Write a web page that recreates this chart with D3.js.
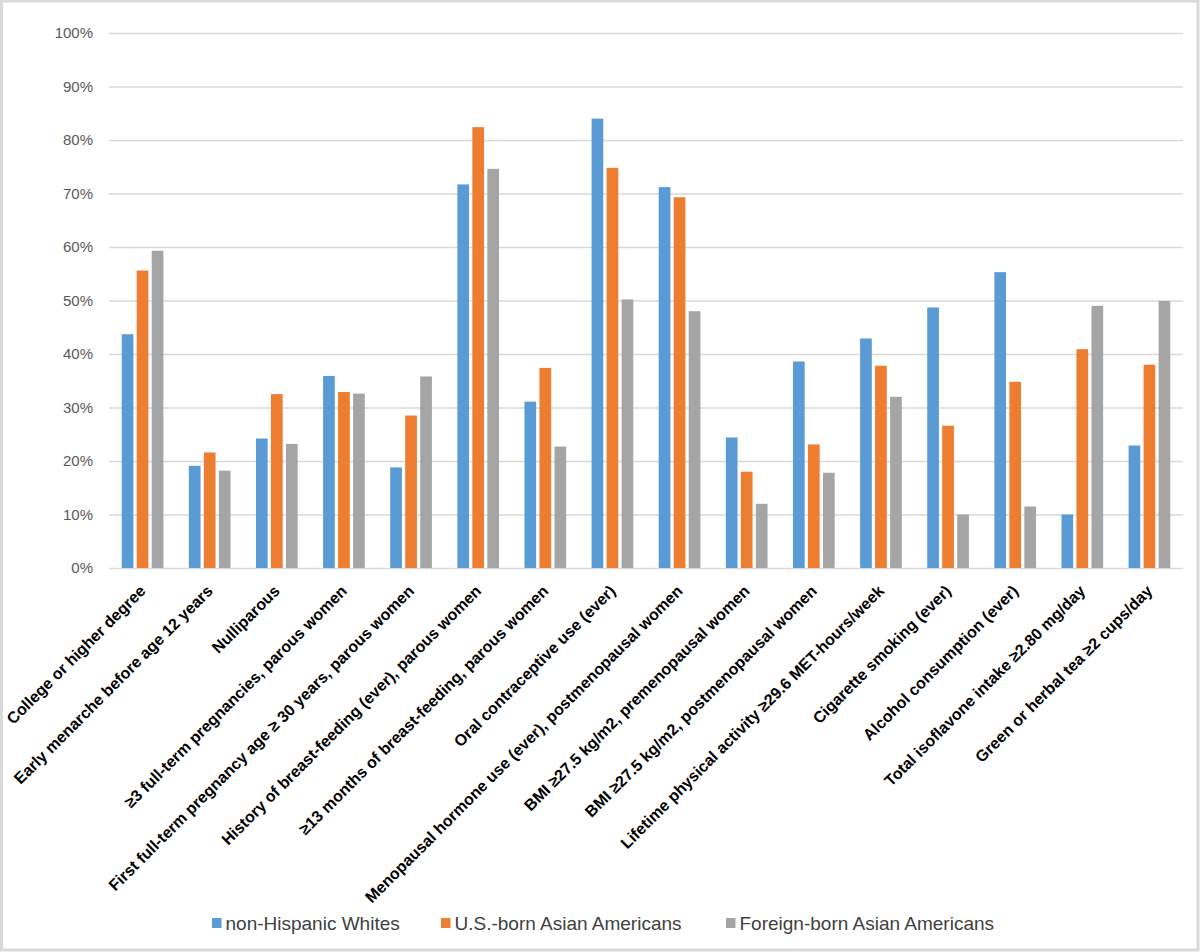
<!DOCTYPE html>
<html>
<head>
<meta charset="utf-8">
<script src="https://cdn.jsdelivr.net/npm/d3@7"></script>
<style>
  html, body { margin: 0; padding: 0; background: #fff; }
  svg { display: block; }
</style>
</head>
<body>
<svg id="chart" width="1200" height="952"></svg>
<script>
const categories = [
  "College or higher degree",
  "Early menarche before age 12 years",
  "Nulliparous",
  "≥3 full-term pregnancies, parous women",
  "First full-term pregnancy age ≥ 30 years, parous women",
  "History of breast-feeding (ever), parous women",
  "≥13 months of breast-feeding, parous women",
  "Oral contraceptive use (ever)",
  "Menopausal hormone use (ever), postmenopausal women",
  "BMI ≥27.5 kg/m2, premenopausal women",
  "BMI ≥27.5 kg/m2, postmenopausal women",
  "Lifetime physical activity ≥29.6 MET-hours/week",
  "Cigarette smoking (ever)",
  "Alcohol consumption (ever)",
  "Total isoflavone intake ≥2.80 mg/day",
  "Green or herbal tea ≥2 cups/day"
];
const seriesNames = ["non-Hispanic Whites", "U.S.-born Asian Americans", "Foreign-born Asian Americans"];
const whites     = [43.7, 19.1, 24.2, 35.9, 18.8, 71.7, 31.1, 84.0, 71.2, 24.4, 38.6, 42.9, 48.7, 55.3, 10.0, 22.9];
const usBorn     = [55.6, 21.6, 32.5, 32.9, 28.5, 82.4, 37.4, 74.8, 69.3, 18.0, 23.1, 37.8, 26.6, 34.8, 40.9, 38.0];
const foreignBorn= [59.3, 18.2, 23.2, 32.6, 35.8, 74.6, 22.7, 50.2, 48.0, 12.0, 17.8, 32.0, 10.0, 11.5, 49.0, 49.9];
const yTicks = [0, 10, 20, 30, 40, 50, 60, 70, 80, 90, 100];
const colors = ["#5B9BD5", "#ED7D31", "#A5A5A5"];

const seriesValues = [whites, usBorn, foreignBorn];

const svg = d3.select("#chart");
const W = 1200, H = 952;
const plot = { left: 109, right: 1183, top: 33, bottom: 568 };

// frame
svg.append("rect")
  .attr("x", 1.5).attr("y", 1).attr("width", W - 3.5).attr("height", H - 3)
  .attr("fill", "#fff").attr("stroke", "#D9D9D9").attr("stroke-width", 3);

const y = d3.scaleLinear().domain([0, 100]).range([plot.bottom, plot.top]);
const x0 = d3.scaleBand().domain(categories).range([plot.left, plot.right])
  .paddingInner(0.379).paddingOuter(0.1895);
const x1 = d3.scaleBand().domain(seriesNames).range([0, x0.bandwidth()])
  .paddingInner(0.22).paddingOuter(0);

// gridlines
const yAxis = d3.axisLeft(y).tickValues(yTicks).tickFormat(d => d + "%")
  .tickSize(-(plot.right - plot.left)).tickPadding(16);
const gy = svg.append("g").attr("transform", `translate(${plot.left},0)`).call(yAxis);
gy.select(".domain").remove();
gy.selectAll(".tick line").attr("stroke", "#D9D9D9").attr("stroke-width", 1.6);
gy.selectAll(".tick text")
  .attr("fill", "#595959")
  .style("font-family", "'Liberation Sans', Arial, sans-serif")
  .style("font-size", "15px");

// bars
const groups = svg.append("g").selectAll("g")
  .data(categories)
  .join("g")
  .attr("transform", d => `translate(${x0(d)},0)`);

groups.selectAll("rect")
  .data((c, i) => seriesNames.map((s, k) => ({ s, k, v: seriesValues[k][i] })))
  .join("rect")
  .attr("x", d => x1(d.s))
  .attr("width", x1.bandwidth())
  .attr("y", d => y(d.v))
  .attr("height", d => y(0) - y(d.v))
  .attr("fill", d => colors[d.k]);

// x axis labels
const xAxis = d3.axisBottom(x0).tickSize(0).tickPadding(0);
const gx = svg.append("g").attr("transform", `translate(0,${plot.bottom})`).call(xAxis);
gx.select(".domain").remove();
gx.selectAll(".tick text")
  .attr("fill", "#000")
  .attr("text-anchor", "end")
  .attr("dy", 0)
  .attr("y", 0)
  .attr("transform", "translate(4,24) rotate(-45)")
  .style("font-family", "'Liberation Sans', Arial, sans-serif")
  .style("font-size", "16px")
  .style("font-weight", "bold");

// legend
const legendItems = [
  { name: seriesNames[0], color: colors[0], x: 212 },
  { name: seriesNames[1], color: colors[1], x: 441 },
  { name: seriesNames[2], color: colors[2], x: 726 }
];
const lg = svg.append("g");
const li = lg.selectAll("g").data(legendItems).join("g")
  .attr("transform", d => `translate(${d.x},918)`);
li.append("rect").attr("width", 9.5).attr("height", 10).attr("fill", d => d.color);
li.append("text")
  .attr("x", 13.5).attr("y", 11.5)
  .attr("fill", "#404040")
  .style("font-family", "'Liberation Sans', Arial, sans-serif")
  .style("font-size", "19px")
  .text(d => d.name);
</script>
</body>
</html>
